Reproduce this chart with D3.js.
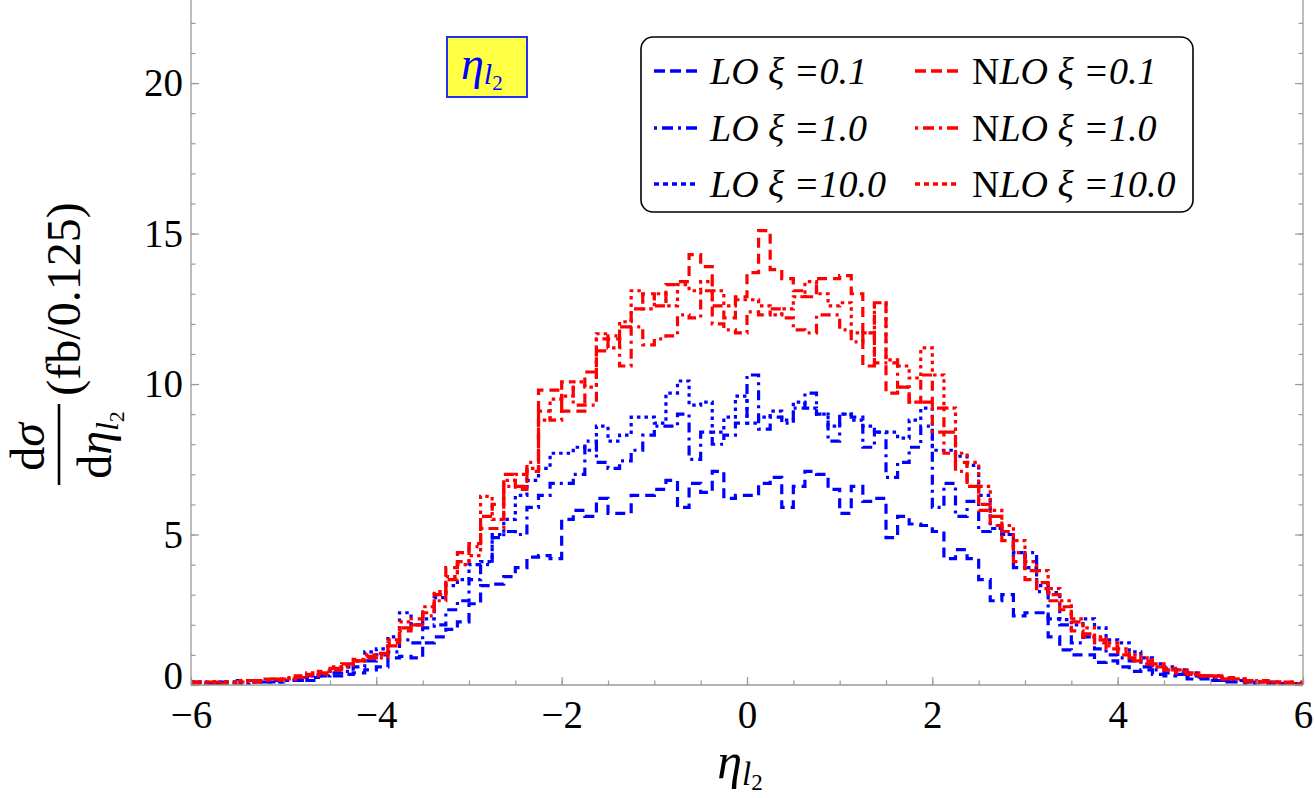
<!DOCTYPE html>
<html>
<head>
<meta charset="utf-8">
<script src="https://cdn.jsdelivr.net/npm/d3@7"></script>
<style>
  body { margin: 0; background: #fff; }
  text { font-family: "Liberation Serif", "DejaVu Serif", serif; }
</style>
</head>
<body>
<svg id="chart" width="1315" height="798"></svg>
<script>
// histogram bins: eta from -6 to 6 in steps of 0.125 (96 bins)
const binStart = -6;
const binWidth = 0.125;

const loXi01 = [
  0.1, 0.05, 0.1, 0.05, 0.1, 0.15, 0.1, 0.1,
  0.15, 0.2, 0.15, 0.3, 0.3, 0.35, 0.4, 0.5,
  0.6, 0.9, 0.95, 0.9, 1.4, 1.6, 1.85, 2.1,
  2.7, 3.3, 3.35, 3.6, 3.9, 4.25, 4.3, 4.2,
  5.5, 5.8, 5.6, 6.2, 5.7, 5.7, 6.3, 6.3,
  6.5, 6.8, 5.9, 6.7, 6.4, 7.1, 6.2, 6.3,
  6.3, 6.7, 6.9, 5.9, 6.6, 7.1, 7.0, 6.5,
  5.7, 6.6, 6.1, 6.2, 4.9, 5.6, 5.35, 5.3,
  5.1, 4.2, 4.5, 4.2, 3.5, 2.8, 3.0, 2.3,
  2.4, 2.4, 1.6, 1.17, 1.0, 1.0, 0.75, 0.8,
  0.6, 0.45, 0.5, 0.35, 0.3, 0.35, 0.2, 0.25,
  0.15, 0.1, 0.15, 0.05, 0.1, 0.05, 0.05, 0.05
];
const loXi10 = [
  0.05, 0.1, 0.05, 0.1, 0.15, 0.1, 0.1, 0.15,
  0.2, 0.15, 0.25, 0.3, 0.4, 0.45, 0.6, 0.8,
  1.0, 1.1, 1.5, 1.4, 1.9, 2.0, 2.5, 2.8,
  3.5, 4.0, 4.9, 5.1, 5.0, 5.9, 6.3, 6.7,
  6.7, 7.0, 8.1, 7.4, 7.2, 7.45, 7.8, 8.3,
  8.6, 8.6, 9.0, 7.5, 8.4, 8.0, 8.3, 8.7,
  10.3, 8.5, 8.9, 8.7, 9.2, 9.7, 9.0, 8.1,
  9.0, 8.9, 7.9, 8.4, 6.9, 7.4, 7.9, 8.6,
  5.9, 6.7, 5.6, 6.1, 5.1, 5.2, 5.0, 3.9,
  4.4, 3.1, 2.2, 2.0, 1.4, 1.6, 1.2, 1.0,
  0.9, 0.8, 0.6, 0.5, 0.4, 0.35, 0.3, 0.2,
  0.2, 0.15, 0.1, 0.1, 0.1, 0.05, 0.05, 0.05
];
const loXi100 = [
  0.1, 0.05, 0.1, 0.1, 0.05, 0.1, 0.15, 0.1,
  0.15, 0.25, 0.3, 0.35, 0.5, 0.6, 0.8, 1.1,
  1.2, 1.6, 2.4, 2.0, 2.2, 2.9, 3.3, 3.5,
  4.0, 4.1, 5.0, 5.5, 6.3, 6.8, 7.2, 7.7,
  7.7, 7.9, 7.8, 8.6, 8.1, 8.3, 8.9, 8.9,
  8.7, 9.7, 10.1, 9.3, 9.4, 8.4, 8.9, 9.6,
  8.7, 8.9, 9.1, 8.8, 9.4, 9.2, 9.0, 8.6,
  9.0, 8.8, 8.6, 8.4, 8.4, 8.2, 8.8, 9.2,
  7.8, 7.8, 7.6, 7.3, 6.3, 5.2, 5.0, 4.4,
  3.9, 3.3, 3.07, 2.17, 2.0, 2.2, 1.9, 1.5,
  1.4, 1.1, 0.9, 0.7, 0.6, 0.5, 0.4, 0.3,
  0.25, 0.2, 0.15, 0.1, 0.1, 0.1, 0.05, 0.05
];
const nloXi01 = [
  0.05, 0.1, 0.05, 0.1, 0.1, 0.15, 0.2, 0.15,
  0.2, 0.3, 0.35, 0.4, 0.55, 0.7, 0.8, 0.9,
  1.05, 1.3, 1.9, 2.0, 2.4, 3.0, 3.9, 4.4,
  4.7, 5.6, 6.0, 7.0, 6.5, 7.1, 9.8, 9.8,
  9.1, 9.1, 10.4, 11.1, 11.5, 11.9, 12.5, 13.0,
  12.6, 13.3, 13.4, 14.3, 13.9, 12.6, 12.2, 12.9,
  13.7, 15.1, 13.8, 13.5, 13.1, 12.9, 13.5, 13.5,
  13.6, 13.0, 10.6, 12.7, 9.7, 9.9, 9.4, 10.3,
  9.2, 8.4, 7.4, 6.6, 5.8, 5.3, 4.8, 4.1,
  3.5, 3.2, 2.8, 2.5, 1.8, 1.6, 1.4, 1.2,
  1.0, 0.8, 0.7, 0.6, 0.5, 0.4, 0.35, 0.3,
  0.3, 0.25, 0.2, 0.15, 0.1, 0.1, 0.05, 0.1
];
const nloXi10 = [
  0.1, 0.05, 0.1, 0.05, 0.1, 0.1, 0.15, 0.2,
  0.25, 0.25, 0.3, 0.45, 0.5, 0.6, 0.85, 0.95,
  0.9, 1.4, 1.8, 2.2, 2.3, 2.8, 3.5, 4.1,
  4.6, 5.2, 5.2, 6.6, 6.6, 7.4, 9.1, 8.8,
  10.07, 9.3, 9.3, 11.5, 11.6, 10.6, 11.9, 11.3,
  11.5, 11.6, 12.3, 12.2, 13.1, 12.0, 11.8, 11.7,
  12.4, 12.3, 12.5, 12.2, 11.8, 11.7, 12.3, 12.3,
  11.8, 11.4, 11.7, 10.7, 10.7, 9.9, 9.4, 9.4,
  8.4, 7.7, 7.1, 6.6, 6.0, 5.6, 5.1, 4.4,
  3.8, 3.4, 3.0, 2.6, 2.1, 1.7, 1.5, 1.3,
  1.1, 0.9, 0.8, 0.6, 0.5, 0.45, 0.35, 0.3,
  0.25, 0.2, 0.2, 0.1, 0.15, 0.1, 0.1, 0.05
];
const nloXi100 = [
  0.1, 0.1, 0.05, 0.1, 0.15, 0.1, 0.15, 0.2,
  0.2, 0.3, 0.4, 0.35, 0.6, 0.65, 0.8, 1.0,
  1.0, 1.5, 2.1, 2.0, 2.6, 3.1, 3.6, 4.0,
  4.3, 6.27, 5.5, 6.8, 7.0, 7.2, 8.8, 9.5,
  9.6, 10.07, 9.9, 11.67, 11.2, 12.07, 13.1, 12.5,
  13.0, 12.6, 13.3, 13.1, 13.4, 13.1, 12.6, 12.8,
  12.8, 12.6, 12.3, 12.5, 12.9, 13.4, 13.0, 12.6,
  12.7, 11.7, 11.7, 12.7, 10.8, 10.6, 10.2, 11.2,
  10.3, 9.2, 7.7, 7.4, 6.6, 5.8, 5.3, 4.8,
  4.1, 3.8, 3.2, 2.8, 2.2, 1.9, 1.6, 1.4,
  1.2, 1.0, 0.9, 0.7, 0.55, 0.5, 0.4, 0.3,
  0.3, 0.2, 0.2, 0.15, 0.1, 0.1, 0.05, 0.05
];

const xTicks = [-6, -4, -2, 0, 2, 4, 6];
const yTicks = [0, 5, 10, 15, 20];
const xiLabels = ['0.1', '1.0', '10.0'];

const BLUE = '#0000ff', RED = '#ff0000';
const DASHES = ['10,6', '10,5,3,5', '3.5,4'];
const LEGEND_DASHES = ['11,5', '3,5,11,5', '5,4'];

const series = [
  { vals: loXi01, color: BLUE, dash: DASHES[0] },
  { vals: loXi10, color: BLUE, dash: DASHES[1] },
  { vals: loXi100, color: BLUE, dash: DASHES[2] },
  { vals: nloXi01, color: RED, dash: DASHES[0] },
  { vals: nloXi10, color: RED, dash: DASHES[1] },
  { vals: nloXi100, color: RED, dash: DASHES[2] }
];

const svg = d3.select('#chart');
const plotL = 191, plotR = 1303, plotB = 685, plotT = 0;

const x = d3.scaleLinear().domain([-6, 6]).range([plotL, plotR]);
const y = d3.scaleLinear().domain([0, 22.76]).range([plotB, plotT]);

svg.append('defs').append('clipPath').attr('id', 'plotclip')
  .append('rect').attr('x', plotL).attr('y', plotT)
  .attr('width', plotR - plotL).attr('height', plotB - plotT + 2);

// histogram steps
const line = d3.line().x(d => x(d[0])).y(d => y(d[1])).curve(d3.curveStepAfter);
const plot = svg.append('g').attr('clip-path', 'url(#plotclip)');
series.forEach(s => {
  const pts = s.vals.map((v, i) => [binStart + i * binWidth, v]);
  pts.push([binStart + s.vals.length * binWidth, s.vals[s.vals.length - 1]]);
  plot.append('path').datum(pts)
    .attr('d', line)
    .attr('fill', 'none')
    .attr('stroke', s.color)
    .attr('stroke-width', 3.2)
    .attr('stroke-dasharray', s.dash);
});

// frame axes
const axisColor = '#999';
function styleAxis(g) {
  g.select('.domain').remove();
  g.selectAll('.tick line').attr('stroke', axisColor).attr('stroke-width', 1.2);
}
function styleLabels(g) {
  g.selectAll('text').attr('font-size', 39).attr('fill', '#000')
    .attr('font-family', 'Liberation Serif');
}
const xMinor = d3.range(-6, 6.001, 0.5);
const yMinor = d3.range(0, 22.5, 1);

svg.append('g').attr('transform', `translate(0,${plotB})`)
  .call(d3.axisBottom(x).tickValues(xMinor).tickSize(-4.5).tickFormat(''))
  .call(styleAxis);
svg.append('g').attr('transform', `translate(0,${plotB})`)
  .call(d3.axisBottom(x).tickValues(xTicks).tickSize(-8).tickPadding(15)
    .tickFormat(d => d < 0 ? '\u2212' + Math.abs(d) : d))
  .call(styleAxis).call(styleLabels);

svg.append('g').attr('transform', `translate(${plotL},0)`)
  .call(d3.axisLeft(y).tickValues(yMinor).tickSize(-4.5).tickFormat(''))
  .call(styleAxis);
svg.append('g').attr('transform', `translate(${plotL},0)`)
  .call(d3.axisLeft(y).tickValues(yTicks).tickSize(-8).tickPadding(8))
  .call(styleAxis).call(styleLabels)
  .call(g => g.selectAll('.tick').filter(d => d === 0).select('text').attr('dy', '0.08em'));

svg.append('g').attr('transform', `translate(${plotR},0)`)
  .call(d3.axisRight(y).tickValues(yMinor).tickSize(-4.5).tickFormat(''))
  .call(styleAxis);
svg.append('g').attr('transform', `translate(${plotR},0)`)
  .call(d3.axisRight(y).tickValues(yTicks).tickSize(-8).tickFormat(''))
  .call(styleAxis);

[[plotL, plotL, plotT, plotB], [plotR, plotR, plotT, plotB], [plotL, plotR, plotB, plotB]]
  .forEach(([x1, x2, y1, y2]) => {
    svg.append('line').attr('x1', x1).attr('x2', x2).attr('y1', y1).attr('y2', y2)
      .attr('stroke', axisColor).attr('stroke-width', 1.3);
  });

// x axis title
const xt = svg.append('text').attr('x', 740).attr('y', 778)
  .attr('font-size', 50).attr('font-style', 'italic').attr('text-anchor', 'middle');
xt.append('tspan').text('\u03B7');
xt.append('tspan').attr('font-size', 33).attr('dy', 7).text('l');
xt.append('tspan').attr('font-size', 23).attr('font-style', 'normal').attr('dy', 5).text('2');

// y axis title (rotated): fraction dσ/dη_l2 followed by (fb/0.125)
const yl = svg.append('g').attr('transform', 'rotate(-90)');
yl.append('text').attr('x', -447).attr('y', 44).attr('font-size', 48)
  .attr('text-anchor', 'middle')
  .call(t => {
    t.append('tspan').text('d');
    t.append('tspan').attr('font-style', 'italic').text('\u03C3');
  });
yl.append('line').attr('x1', -485).attr('x2', -404).attr('y1', 59).attr('y2', 59)
  .attr('stroke', '#000').attr('stroke-width', 2.6);
const den = yl.append('text').attr('x', -445).attr('y', 111).attr('font-size', 48)
  .attr('text-anchor', 'middle');
den.append('tspan').text('d');
den.append('tspan').attr('font-style', 'italic').text('\u03B7');
den.append('tspan').attr('font-style', 'italic').attr('font-size', 32).attr('dy', 7).text('l');
den.append('tspan').attr('font-size', 22).attr('dy', 6).text('2');
yl.append('text').attr('x', -299).attr('y', 80).attr('font-size', 48)
  .attr('text-anchor', 'middle').text('(fb/0.125)');

// inset label
svg.append('rect').attr('x', 447).attr('y', 37).attr('width', 80).attr('height', 60)
  .attr('fill', '#ffff44').attr('stroke', '#2233ee').attr('stroke-width', 2);
const lab = svg.append('text').attr('x', 461).attr('y', 79).attr('font-size', 46)
  .attr('font-style', 'italic').attr('fill', BLUE);
lab.append('tspan').text('\u03B7');
lab.append('tspan').attr('font-size', 30).attr('dy', 5).text('l');
lab.append('tspan').attr('font-size', 21).attr('font-style', 'normal').attr('dy', 6).text('2');

// legend
svg.append('rect').attr('x', 641).attr('y', 37).attr('width', 552).attr('height', 175)
  .attr('rx', 12).attr('fill', '#fff').attr('stroke', '#000').attr('stroke-width', 1.6);
const rowY = [71, 128, 184];
xiLabels.forEach((lbl, i) => {
  const cy = rowY[i];
  [[654, 710, BLUE, ''], [915, 972, RED, 'N']].forEach(([sx, tx, col, pre]) => {
    svg.append('line').attr('x1', sx).attr('x2', sx + 44).attr('y1', cy).attr('y2', cy)
      .attr('stroke', col).attr('stroke-width', 3.6).attr('stroke-dasharray', LEGEND_DASHES[i]);
    const t = svg.append('text').attr('x', tx).attr('y', cy + 13).attr('font-size', 38);
    if (pre) t.append('tspan').text(pre);
    t.append('tspan').attr('font-style', 'italic').text('LO \u03BE =' + lbl);
  });
});
</script>
</body>
</html>
